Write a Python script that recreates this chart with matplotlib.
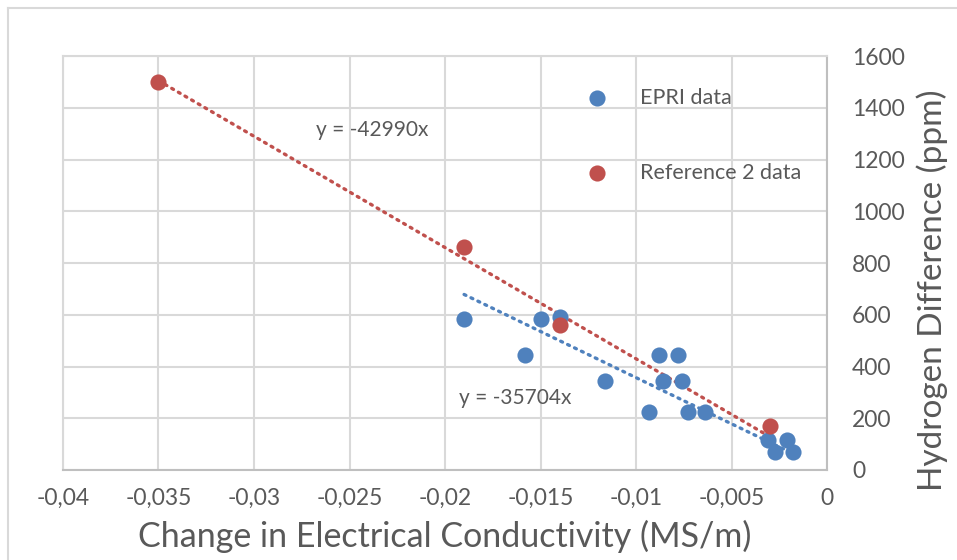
import numpy as np
import matplotlib
matplotlib.use("Agg")
import matplotlib.pyplot as plt
from matplotlib.lines import Line2D

# EPRI data
epri_x = [-0.019, -0.015, -0.014, -0.0158, -0.0116, -0.0088, -0.0078, -0.0086,
          -0.0076, -0.0093, -0.0073, -0.0064, -0.0031, -0.0021, -0.0027, -0.0018]
epri_y = [585, 585, 590, 445, 345, 445, 445, 345,
          345, 225, 225, 225, 115, 115, 70, 70]

# Reference 2 data
ref_x = [-0.035, -0.019, -0.014, -0.003]
ref_y = [1500, 860, 560, 170]

# trendline slopes (fit through origin)
slope_epri = -35704
slope_ref = -42990

xticks = [-0.04, -0.035, -0.03, -0.025, -0.02, -0.015, -0.01, -0.005, 0]
xtick_labels = ["-0,04", "-0,035", "-0,03", "-0,025", "-0,02", "-0,015", "-0,01", "-0,005", "0"]
yticks = [0, 200, 400, 600, 800, 1000, 1200, 1400, 1600]

blue = "#4F81BD"
red = "#C0504D"
txt = "#595959"
grid = "#d9d9d9"

plt.rcParams['font.family'] = ['Lato', 'DejaVu Sans']

fig = plt.figure(figsize=(9.57, 5.6), dpi=100)
ax = fig.add_axes([63/957, 1-470/560, (827-63)/957, (470-56)/560])

# outer chart border
fig.add_artist(Line2D([8/957, 8/957], [0, 1-8/560], color=grid, lw=1.5))
fig.add_artist(Line2D([8/957, 1], [1-8/560, 1-8/560], color=grid, lw=1.5))

# trendlines
tx = np.array([min(ref_x), max(ref_x)])
ax.plot(tx, slope_ref*tx, color=red, lw=2.4, ls=(0, (0.6, 1.7)), dash_capstyle='round', zorder=2)
tx = np.array([min(epri_x), max(epri_x)])
ax.plot(tx, slope_epri*tx, color=blue, lw=2.4, ls=(0, (0.6, 1.7)), dash_capstyle='round', zorder=2)

ax.scatter(epri_x, epri_y, s=135, color=blue, label="EPRI data", zorder=3, linewidths=0)
ax.scatter(ref_x, ref_y, s=135, color=red, label="Reference 2 data", zorder=4, linewidths=0)

ax.text(-0.0238, 1314, "y = -42990x", color=txt, fontsize=15, ha='center', va='center')
ax.text(-0.01633, 278, "y = -35704x", color=txt, fontsize=15, ha='center', va='center')

ax.set_xlim(-0.04, 0)
ax.set_ylim(0, 1600)
ax.set_xticks(xticks)
ax.set_xticklabels(xtick_labels)
ax.set_yticks(yticks)
ax.yaxis.tick_right()
ax.yaxis.set_label_position("right")
ax.tick_params(axis='both', length=0, labelsize=16.5, labelcolor=txt)
ax.tick_params(axis='x', pad=13)
ax.tick_params(axis='y', pad=18)
ax.grid(True, color=grid, lw=1.5)
ax.set_axisbelow(True)
for s in ['left', 'top']:
    ax.spines[s].set_color(grid)
    ax.spines[s].set_linewidth(1.5)
for s in ['bottom', 'right']:
    ax.spines[s].set_color("#bfbfbf")
    ax.spines[s].set_linewidth(1.5)

ax.set_xlabel("Change in Electrical Conductivity (MS/m)", fontsize=24.5, color=txt, labelpad=8)
ax.set_ylabel("Hydrogen Difference (ppm)", fontsize=24, color=txt, va='center', ha='center')
ax.yaxis.set_label_coords((932-63)/764, (470-290)/414)

ax.legend(loc='upper left', bbox_to_anchor=(575/957, 1-88/560), bbox_transform=fig.transFigure,
          frameon=False, fontsize=15.5, labelcolor=txt, labelspacing=2.55, handletextpad=1.0,
          borderpad=0, borderaxespad=0, scatterpoints=1)

fig.savefig("out.png", dpi=100)
